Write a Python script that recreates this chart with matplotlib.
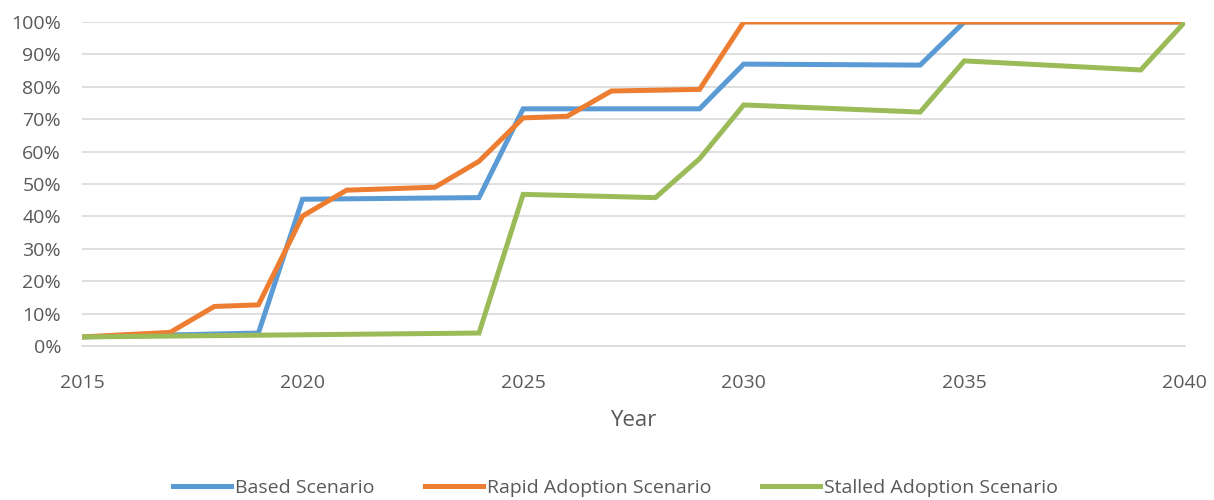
import matplotlib.pyplot as plt
from matplotlib.ticker import PercentFormatter

plt.rcParams['font.family'] = ['Open Sans', 'DejaVu Sans']

# Datos
based_years = [2015, 2019, 2020, 2024, 2025, 2029, 2030, 2034, 2035, 2040]
based_vals = [2.8, 4.0, 45.3, 45.8, 73.2, 73.2, 87.0, 86.7, 100, 100]

rapid_years = [2015, 2017, 2018, 2019, 2020, 2021, 2023, 2024, 2025, 2026, 2027, 2029, 2030, 2040]
rapid_vals = [2.8, 4.2, 12.2, 12.7, 40.1, 48.1, 49.0, 57.0, 70.4, 70.9, 78.7, 79.2, 100, 100]

stalled_years = [2015, 2024, 2025, 2028, 2029, 2030, 2034, 2035, 2039, 2040]
stalled_vals = [2.8, 4.0, 46.8, 45.8, 57.8, 74.4, 72.2, 88.0, 85.2, 100]

series = [
    ("Based Scenario", based_years, based_vals, "#5B9BD5"),
    ("Rapid Adoption Scenario", rapid_years, rapid_vals, "#ED7D31"),
    ("Stalled Adoption Scenario", stalled_years, stalled_vals, "#9BBB59"),
]

fig = plt.figure(figsize=(12.14, 5), dpi=100)
ax = fig.add_axes([0.0675, 0.308, 0.9085, 0.648])

for name, xs, ys, col in series:
    ax.plot(xs, ys, color=col, linewidth=3.6, label=name, solid_joinstyle="miter")

ax.set_xlim(2015, 2040)
ax.set_ylim(0, 100)
ax.set_xticks(range(2015, 2041, 5))
ax.set_yticks(range(0, 101, 10))
ax.yaxis.set_major_formatter(PercentFormatter(decimals=0))
ax.grid(axis="y", color="#d9d9d9", linewidth=1.2)
ax.set_axisbelow(True)
for s in ["top", "right", "left"]:
    ax.spines[s].set_visible(False)
ax.spines["bottom"].set_color("#d9d9d9")
ax.spines["bottom"].set_linewidth(1.2)
ax.tick_params(length=0, labelsize=14, labelcolor="#595959")
ax.tick_params(axis="x", pad=20)
ax.tick_params(axis="y", pad=15)
ax.set_xlabel("Year", fontsize=16, color="#595959", labelpad=13)

fig.legend(loc="center", ncol=3, frameon=False, fontsize=14,
           bbox_to_anchor=(0.507, 0.024), handlelength=3.0, handletextpad=0.2,
           columnspacing=2.6, labelcolor="#595959")

plt.savefig("out.png", dpi=100)
